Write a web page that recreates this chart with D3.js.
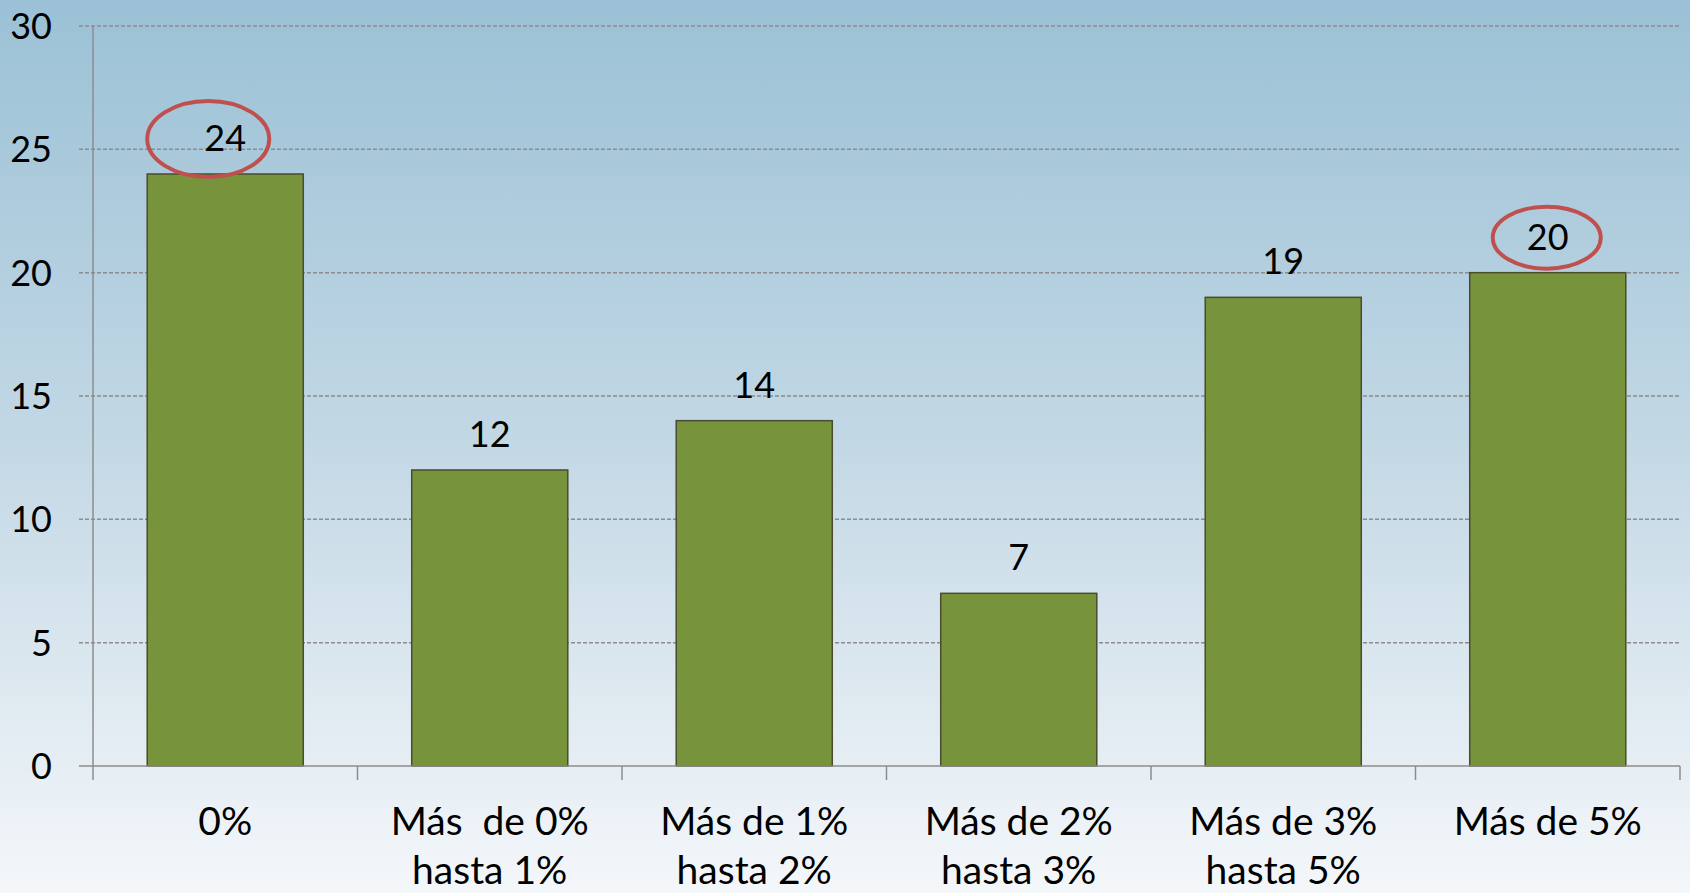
<!DOCTYPE html>
<html>
<head>
    <meta charset="utf-8">
    <title>Bar chart</title>
    <script src="https://d3js.org/d3.v7.min.js"></script>
    <style>
        body { margin: 0; overflow: hidden; }
        text { font-family: Lato, "Open Sans", sans-serif; fill: #000; }
        .grid line { stroke: #8c8c8c; stroke-width: 1.5px; stroke-dasharray: 4,2; }
        .axis-line { stroke: #8c8c8c; stroke-width: 1.5px; }
        .bar { fill: #77933C; stroke: #4b4b2e; stroke-width: 1.5px; }
    </style>
</head>
<body>
    <div id="chart"></div>
    <script>
        const categories = [
            ["0%"],
            ["Más  de 0%", "hasta 1%"],
            ["Más de 1%", "hasta 2%"],
            ["Más de 2%", "hasta 3%"],
            ["Más de 3%", "hasta 5%"],
            ["Más de 5%"]
        ];
        const values = [24, 12, 14, 7, 19, 20];
        const yTicks = [0, 5, 10, 15, 20, 25, 30];
        const circled = [0, 5];

        const width = 1690;
        const height = 893;
        const margin = { top: 26, right: 10, bottom: 127, left: 93 };

        const svg = d3.select("#chart")
            .append("svg")
            .attr("width", width)
            .attr("height", height);

        // fondo degradado
        const grad = svg.append("defs").append("linearGradient")
            .attr("id", "bg")
            .attr("x1", 0).attr("y1", 0).attr("x2", 0).attr("y2", 1);
        grad.append("stop").attr("offset", "0%").attr("stop-color", "#9bc1d6");
        grad.append("stop").attr("offset", "50%").attr("stop-color", "#c3d8e5");
        grad.append("stop").attr("offset", "100%").attr("stop-color", "#f4f7fa");
        svg.append("rect").attr("width", width).attr("height", height).attr("fill", "url(#bg)");

        const x = d3.scaleBand()
            .domain(d3.range(categories.length))
            .range([margin.left, width - margin.right])
            .paddingInner(0.41)
            .paddingOuter(0.205);

        const y = d3.scaleLinear()
            .domain([0, 30])
            .range([height - margin.bottom, margin.top]);

        const x0 = margin.left;
        const x1 = width - margin.right;
        const y0 = y(0);

        // líneas de cuadrícula
        svg.append("g").attr("class", "grid")
            .selectAll("line")
            .data(yTicks.filter(d => d > 0))
            .join("line")
            .attr("x1", x0 - 14).attr("x2", x1)
            .attr("y1", d => y(d)).attr("y2", d => y(d));

        // eje Y
        svg.append("line").attr("class", "axis-line")
            .attr("x1", x0).attr("x2", x0)
            .attr("y1", y(30)).attr("y2", y0);
        svg.append("line").attr("class", "axis-line")
            .attr("x1", x0 - 14).attr("x2", x0)
            .attr("y1", y0).attr("y2", y0);
        svg.append("g")
            .selectAll("text")
            .data(yTicks)
            .join("text")
            .attr("x", 52)
            .attr("y", d => y(d))
            .attr("dy", "0.36em")
            .attr("text-anchor", "end")
            .style("font-size", "36px")
            .text(d => d);

        // barras
        svg.append("g")
            .selectAll("rect")
            .data(values)
            .join("rect")
            .attr("class", "bar")
            .attr("x", (d, i) => x(i))
            .attr("y", d => y(d))
            .attr("width", x.bandwidth())
            .attr("height", d => y0 - y(d));

        // eje X
        svg.append("line").attr("class", "axis-line")
            .attr("x1", x0).attr("x2", x1)
            .attr("y1", y0).attr("y2", y0);
        const step = x.step();
        svg.append("g")
            .selectAll("line")
            .data(d3.range(categories.length + 1))
            .join("line")
            .attr("class", "axis-line")
            .attr("x1", i => x0 + i * step).attr("x2", i => x0 + i * step)
            .attr("y1", y0).attr("y2", y0 + 14);

        const cx = i => x(i) + x.bandwidth() / 2;

        svg.append("g")
            .selectAll("text")
            .data(categories)
            .join("text")
            .attr("text-anchor", "middle")
            .attr("x", (d, i) => cx(i))
            .attr("y", y0 + 69)
            .style("font-size", "39px")
            .style("white-space", "pre")
            .each(function(lines, i) {
                d3.select(this).selectAll("tspan")
                    .data(lines)
                    .join("tspan")
                    .attr("x", cx(i))
                    .attr("dy", (l, j) => j === 0 ? 0 : 49)
                    .text(l => l);
            });

        // etiquetas de valor
        svg.append("g")
            .selectAll("text")
            .data(values)
            .join("text")
            .attr("text-anchor", "middle")
            .attr("x", (d, i) => cx(i))
            .attr("y", d => y(d) - 23)
            .style("font-size", "36px")
            .text(d => d);

        // círculos rojos
        svg.append("ellipse")
            .attr("cx", cx(circled[0]) - 17)
            .attr("cy", y(values[circled[0]]) - 35)
            .attr("rx", 61).attr("ry", 38)
            .attr("fill", "none").attr("stroke", "#c0504d").attr("stroke-width", 4);
        svg.append("ellipse")
            .attr("cx", cx(circled[1]) - 1)
            .attr("cy", y(values[circled[1]]) - 35)
            .attr("rx", 54).attr("ry", 31)
            .attr("fill", "none").attr("stroke", "#c0504d").attr("stroke-width", 4);
    </script>
</body>
</html>
